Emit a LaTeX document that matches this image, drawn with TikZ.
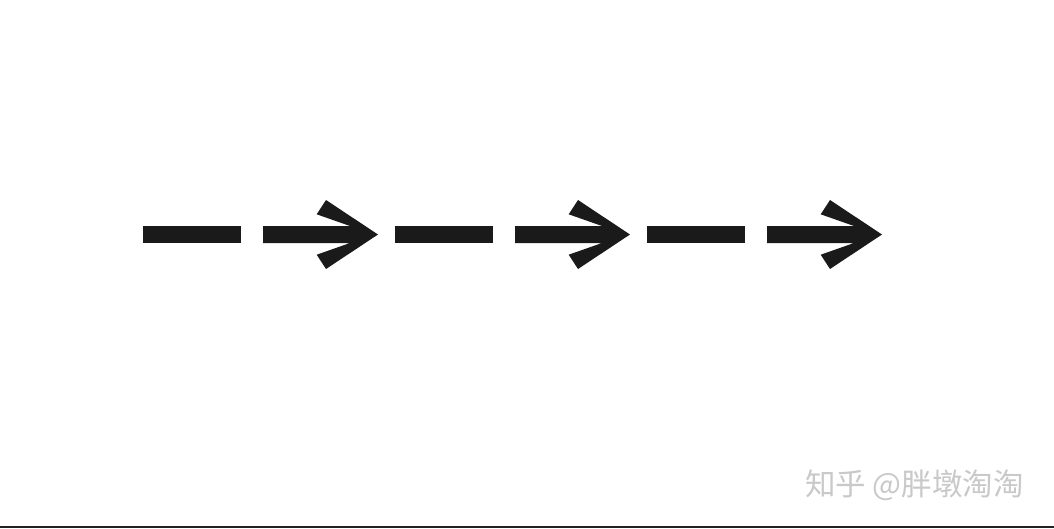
\documentclass[tikz,border=0pt]{standalone}
\usepackage{fontspec}
\newfontfamily\cjk{Noto Sans CJK SC}
\definecolor{ink}{HTML}{1A1A1A}
\definecolor{mark}{HTML}{C9C9C9}
\definecolor{rule}{HTML}{222222}
\tikzset{
  piece/.style={fill=ink, draw=none},
}
\begin{document}
\begin{tikzpicture}[x=1pt,y=-1pt]
\useasboundingbox (0,0) rectangle (1054,528);
\fill[white] (0,0) rectangle (1054,528);
\foreach \o in {0,252,504}{
  % dash
  \fill[piece] (143+\o,226) rectangle (241+\o,243);
  % shaft + chevron head
  \fill[piece] (263+\o,226) -- (350+\o,226) -- (316.7+\o,214.3) -- (326+\o,200)
     -- (378+\o,234.5) -- (326+\o,269) -- (316.7+\o,254.7) -- (350+\o,243)
     -- (263+\o,243) -- cycle;
}
\node[anchor=east, inner sep=0pt, text=mark, font=\cjk\fontsize{30.5}{30.5}\selectfont] (wm) at (1024,485) {知乎 @胖墩淘淘};
\fill[rule] (0,525.5) rectangle (1054,528);
\end{tikzpicture}
\end{document}
